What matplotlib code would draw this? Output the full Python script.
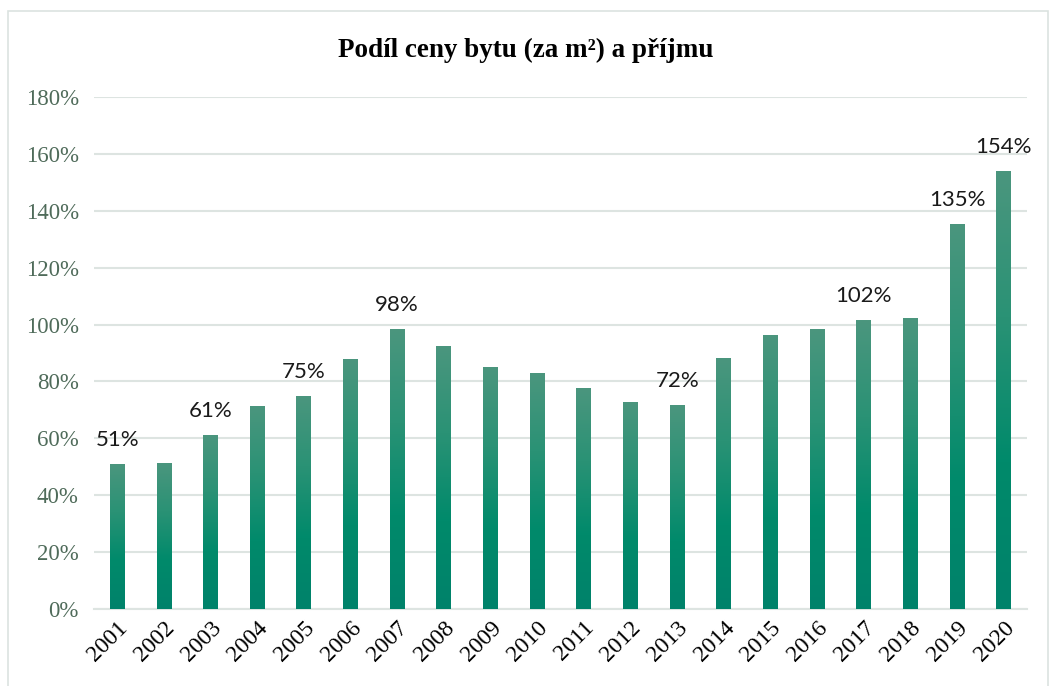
import numpy as np
import matplotlib
matplotlib.use("Agg")
import matplotlib.pyplot as plt
from matplotlib.colors import LinearSegmentedColormap
from matplotlib.patches import Rectangle

years = ["2001", "2002", "2003", "2004", "2005", "2006", "2007", "2008", "2009", "2010",
         "2011", "2012", "2013", "2014", "2015", "2016", "2017", "2018", "2019", "2020"]
ratio = [51.0, 51.5, 61.2, 71.4, 74.9, 87.9, 98.4, 92.5, 85.1, 83.0,
         77.7, 72.8, 71.7, 88.3, 96.3, 98.4, 101.6, 102.3, 135.4, 154.0]
# which bars get a value label
labeled = ["2001", "2003", "2005", "2007", "2013", "2017", "2019", "2020"]

# bottom -> top of each bar
grad = LinearSegmentedColormap.from_list("g", ["#00826A", "#008A6B", "#2A9275", "#4B967E"])

fig = plt.figure(figsize=(10.52, 6.86), dpi=100)
ax = fig.add_axes([94 / 1052, 1 - 609 / 686, (1027 - 94) / 1052, (609 - 97) / 686])

x = np.arange(len(years))
w = 0.32
bars = ax.bar(x, ratio, width=w, color="none", zorder=3)
g = np.linspace(0, 1, 256).reshape(-1, 1)
for b in bars:
    x0, h = b.get_x(), b.get_height()
    im = ax.imshow(g, cmap=grad, origin="lower", aspect="auto",
                   extent=[x0, x0 + w, 0, h], zorder=3)
    im.set_clip_path(b)

for yr, v, xi in zip(years, ratio, x):
    if yr in labeled:
        ax.annotate(f"{round(v)}%", (xi, v), xytext=(0, 10), textcoords="offset points",
                    ha="center", va="bottom", fontsize=16, family="Lato", color="#1a1a1a")

ax.set_xlim(-0.5, len(years) - 0.5)
ax.set_ylim(0, 180)
ax.set_yticks(np.arange(0, 181, 20))
ax.set_yticklabels([f"{t}%" for t in range(0, 181, 20)], family="Liberation Serif",
                   fontsize=16.5, color="#4F6B5A")
ax.set_xticks(x)
ax.set_xticklabels(years, rotation=45, ha="right", rotation_mode="anchor",
                   family="Liberation Serif", fontsize=17)
ax.tick_params(length=0, axis="y", pad=11)
ax.tick_params(length=0, axis="x", pad=6)
ax.grid(axis="y", color="#DDE4E1", linewidth=1.5, zorder=0)
ax.set_axisbelow(True)
for s in ["top", "right", "left"]:
    ax.spines[s].set_visible(False)
ax.spines["bottom"].set_color("#DDE4E1")
ax.spines["bottom"].set_linewidth(1.5)

fig.text(0.5, 1 - 50 / 686, "Podíl ceny bytu (za m²) a příjmu", ha="center", va="center",
         fontsize=19.5, fontweight="bold", family="Liberation Serif")

fig.patches.append(Rectangle((8 / 1052, -0.05), 1040 / 1052, 1.05 - 11 / 686,
                             transform=fig.transFigure, fill=False,
                             edgecolor="#DCE3E0", linewidth=1.2))

fig.savefig("out.png", dpi=100)
